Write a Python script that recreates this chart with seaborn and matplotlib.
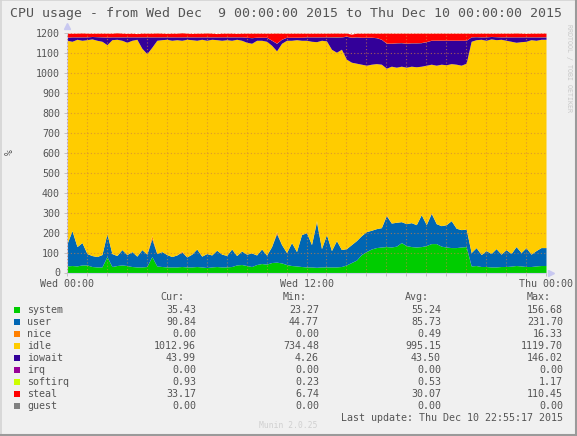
import numpy as np
import seaborn as sb
from matplotlib import pyplot as plt

# values, one point every 15 minutes from Wed 00:00
system = [33, 35, 33, 38, 38, 30, 28, 28,
          80, 30, 35, 38, 35, 30, 28, 28,
          30, 80, 33, 30, 28, 28, 28, 30,
          28, 28, 30, 28, 25, 28, 30, 28,
          28, 30, 38, 40, 35, 30, 40, 45,
          42, 50, 52, 48, 40, 35, 33, 30,
          28, 28, 26, 28, 28, 28, 28, 30,
          38, 50, 62, 90, 105, 118, 125, 128,
          130, 128, 132, 150, 135, 130, 128, 130,
          135, 145, 145, 132, 128, 125, 125, 128,
          130, 33, 35, 30, 30, 28, 28, 30,
          30, 32, 35, 33, 30, 30, 33, 35]
user = [112, 175, 97, 112, 57, 55, 52, 62,
        115, 65, 50, 77, 55, 75, 54, 87,
        62, 89, 62, 75, 62, 52, 60, 73,
        50, 64, 88, 54, 70, 60, 82, 64,
        58, 88, 47, 68, 57, 68, 48, 73,
        45, 80, 143, 92, 60, 115, 72, 160,
        172, 112, 228, 92, 162, 82, 132, 85,
        82, 90, 98, 95, 100, 94, 95, 97,
        155, 120, 120, 105, 110, 120, 112, 160,
        105, 151, 100, 103, 112, 135, 97, 87,
        88, 67, 90, 60, 80, 67, 92, 62,
        85, 63, 95, 67, 95, 62, 77, 90]
nice = [0, 0, 0, 0, 0, 0, 0, 0,
        0, 0, 0, 0, 0, 0, 0, 0,
        0, 16, 0, 0, 0, 0, 0, 5,
        0, 0, 0, 0, 0, 0, 0, 0,
        0, 0, 0, 0, 0, 0, 0, 0,
        0, 0, 10, 0, 0, 0, 0, 0,
        0, 0, 6, 0, 0, 0, 0, 0,
        0, 0, 0, 0, 0, 0, 0, 0,
        5, 0, 0, 0, 0, 0, 0, 0,
        0, 4, 0, 0, 0, 0, 0, 0,
        0, 0, 0, 0, 0, 0, 0, 0,
        0, 0, 0, 0, 0, 0, 0, 0]
idle = [1020, 950, 1040, 1015, 1073, 1087, 1085, 1070,
        948, 1073, 1085, 1050, 1065, 1060, 1088, 1010,
        1006, 945, 1070, 1063, 1080, 1085, 1080, 1057,
        1092, 1076, 1047, 1088, 1070, 1082, 1056, 1073,
        1082, 1047, 1085, 1057, 1063, 1052, 1077, 1047,
        1073, 1010, 907, 1010, 1065, 1015, 1063, 975,
        965, 1020, 898, 1045, 972, 1010, 945, 1005,
        950, 915, 890, 860, 835, 833, 828, 820,
        735, 787, 778, 780, 785, 785, 792, 745,
        800, 745, 795, 810, 802, 788, 823, 825,
        832, 1060, 1043, 1080, 1055, 1077, 1048, 1078,
        1050, 1065, 1025, 1058, 1035, 1076, 1055, 1045]
iowait = [15, 22, 12, 17, 14, 12, 18, 22,
          38, 14, 12, 17, 27, 17, 12, 57,
          84, 52, 17, 14, 12, 17, 14, 17,
          12, 14, 17, 12, 17, 12, 14, 17,
          14, 17, 12, 17, 25, 28, 15, 15,
          20, 25, 38, 20, 15, 15, 12, 15,
          17, 22, 24, 17, 20, 62, 77, 62,
          115, 125, 132, 135, 140, 135, 130, 125,
          125, 115, 122, 118, 120, 117, 120, 118,
          118, 120, 125, 120, 123, 117, 120, 125,
          115, 22, 15, 12, 17, 12, 15, 12,
          17, 22, 27, 24, 22, 14, 17, 12]
irq = [0] * 96
softirq = [0.5, 0.4, 0.6, 0.5, 0.5, 0.3, 0.5, 0.6, 0.5, 0.4, 0.5, 0.7, 0.5, 0.4, 0.5, 0.6,
           0.5, 0.5, 0.4, 0.6, 0.5, 0.5, 0.3, 0.5, 0.6, 0.5, 0.4, 0.5, 0.5, 0.6, 0.5, 0.4,
           0.5, 0.6, 0.5, 0.4, 0.5, 0.5, 0.6, 0.5, 0.4, 0.5, 0.9, 0.5, 0.4, 0.5, 0.6, 0.5,
           0.5, 0.4, 0.6, 0.5, 0.5, 0.8, 1.1, 0.6, 1.0, 0.7, 0.6, 0.5, 0.6, 0.7, 0.5, 0.6,
           0.8, 0.6, 0.5, 0.7, 0.6, 0.5, 0.6, 0.7, 0.6, 0.5, 0.6, 0.7, 0.5, 0.6, 0.5, 0.6,
           0.5, 0.4, 0.5, 0.6, 0.5, 0.4, 0.5, 0.5, 0.6, 0.5, 0.4, 0.5, 0.5, 0.6, 0.5, 0.9]
steal = [20, 18, 18, 19, 18, 16, 17, 18,
         19, 18, 20, 18, 17, 18, 16, 18,
         18, 18, 19, 18, 17, 18, 18, 20,
         18, 17, 18, 18, 19, 18, 16, 18,
         18, 18, 17, 18, 20, 22, 20, 20,
         20, 35, 50, 30, 20, 20, 20, 20,
         18, 18, 18, 18, 18, 18, 18, 18,
         15, 15, 18, 20, 20, 20, 22, 30,
         50, 50, 48, 47, 50, 48, 48, 47,
         42, 35, 35, 35, 35, 35, 35, 35,
         35, 18, 17, 18, 18, 16, 17, 18,
         18, 18, 19, 18, 17, 18, 18, 18]
guest = [0] * 96

names = ['system', 'user', 'nice', 'idle', 'iowait', 'irq', 'softirq', 'steal', 'guest']
colours = ['#00CC00', '#0066B3', '#FF8000', '#FFCC00', '#330099',
           '#990099', '#CCFF00', '#FF0000', '#808080']
cur = ['35.43', '90.84', '0.00', '1012.96', '43.99', '0.00', '0.93', '33.17', '0.00']
mins = ['23.27', '44.77', '0.00', '734.48', '4.26', '0.00', '0.23', '6.74', '0.00']
avgs = ['55.24', '85.73', '0.49', '995.15', '43.50', '0.00', '0.53', '30.07', '0.00']
maxs = ['156.68', '231.70', '16.33', '1119.70', '146.02', '0.00', '1.17', '110.45', '0.00']

sb.set_theme(style='white')
plt.rcParams['font.family'] = ['DejaVu Sans Mono', 'DejaVu Sans']

W, H = 577, 436
fig = plt.figure(figsize=(W / 100, H / 100), dpi=100, facecolor='#F0F0F0')
ax = fig.add_axes([67 / W, 1 - 272.5 / H, (546 - 67) / W, (272.5 - 33.3) / H])
ax.set_facecolor('white')

series = [system, user, nice, idle, iowait, irq, softirq, steal, guest]
hours = np.arange(97) / 4
stacked = [np.append(s, s[-1]) for s in series]
ax.stackplot(hours, *stacked, colors=sb.color_palette(colours), linewidth=0)

ax.set_xlim(0, 24)
ax.set_ylim(0, 1200)
ax.set_yticks(range(0, 1201, 100))
ax.set_xticks([0, 12, 24])
ax.set_xticklabels(['Wed 00:00', 'Wed 12:00', 'Thu 00:00'])
ax.set_xticks(range(0, 25), minor=True)
ax.set_axisbelow(False)
grid_kw = dict(color='#D08040', linestyle=(0, (1, 2)), linewidth=0.8, alpha=0.7)
ax.grid(True, which='major', axis='y', **grid_kw)
ax.grid(True, which='both', axis='x', **grid_kw)
ax.tick_params(axis='both', which='both', length=2, width=0.6, color='#BBBBBB',
               labelsize=7.2, labelcolor='#555555', pad=3, left=True, bottom=True)
for s in ['top', 'right']:
    ax.spines[s].set_visible(False)
for s in ['left', 'bottom']:
    ax.spines[s].set_color('#D0D0F0')
    ax.spines[s].set_linewidth(0.8)
ax.plot([0], [1.03], marker='^', color='#C8C8F0', markersize=5, transform=ax.transAxes, clip_on=False)
ax.plot([1.01], [0], marker='>', color='#C8C8F0', markersize=5, transform=ax.transAxes, clip_on=False)

def fx(x):
    return x / W

def fy(y):
    return 1 - y / H

fig.text(fx(10), fy(13), 'CPU usage - from Wed Dec  9 00:00:00 2015 to Thu Dec 10 00:00:00 2015',
         ha='left', va='center', fontsize=9.5, color='#555555')
fig.text(fx(10), fy(152), '%', rotation=90, ha='center', va='center', fontsize=7, color='#555555')
fig.text(fx(569), fy(68), 'RRDTOOL / TOBI OETIKER', rotation=270, ha='center', va='center',
         fontsize=4.8, color='#C8C8C8')

right_edges = [196, 319, 441, 563]
for head, xr in zip(['Cur:', 'Min:', 'Avg:', 'Max:'], right_edges):
    fig.text(fx(xr - 12), fy(297), head, ha='right', va='center', fontsize=7.2, color='#555555')
for k, name in enumerate(names):
    y = 310 + 12 * k
    fig.patches.append(plt.Rectangle((fx(14), fy(y + 3)), 6 / W, 6 / H, transform=fig.transFigure,
                                     facecolor=colours[k], edgecolor='none'))
    fig.text(fx(27), fy(y), name, ha='left', va='center', fontsize=7.2, color='#555555')
    for col, xr in zip([cur, mins, avgs, maxs], right_edges):
        fig.text(fx(xr), fy(y), col[k], ha='right', va='center', fontsize=7.2, color='#555555')
fig.text(fx(563), fy(418), 'Last update: Thu Dec 10 22:55:17 2015', ha='right', va='center',
         fontsize=7.2, color='#555555')
fig.text(fx(288), fy(425), 'Munin 2.0.25', ha='center', va='center', fontsize=5.8, color='#D0D0D0')

# frame round the picture
fig.add_artist(plt.Line2D([fx(0.5), fx(0.5)], [0, 1], color='#D4D4D4', linewidth=1.2, transform=fig.transFigure))
fig.add_artist(plt.Line2D([fx(0), fx(577)], [fy(0.5), fy(0.5)], color='#D4D4D4', linewidth=1.2, transform=fig.transFigure))
fig.add_artist(plt.Line2D([fx(576), fx(576)], [0, 1], color='#9A9A9A', linewidth=1.5, transform=fig.transFigure))
fig.add_artist(plt.Line2D([0, 1], [fy(435), fy(435)], color='#9A9A9A', linewidth=1.5, transform=fig.transFigure))

fig.savefig('out.png', dpi=100, facecolor=fig.get_facecolor())
